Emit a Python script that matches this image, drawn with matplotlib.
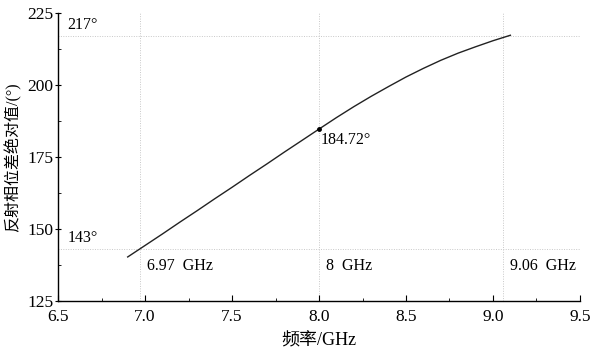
import matplotlib
matplotlib.use("Agg")
import matplotlib.pyplot as plt
from matplotlib.ticker import MultipleLocator, FormatStrFormatter

# frequency (GHz) and absolute reflection phase difference (deg)
freq = [6.90, 7.00, 7.10, 7.20, 7.30, 7.40, 7.50, 7.60, 7.70, 7.80, 7.90,
        8.00, 8.10, 8.20, 8.30, 8.40, 8.50, 8.60, 8.70, 8.80, 8.90, 9.00, 9.10]
phase = [140.3, 144.3, 148.3, 152.4, 156.4, 160.5, 164.5, 168.6, 172.6, 176.7, 180.7,
         184.72, 188.7, 192.5, 196.1, 199.5, 202.8, 205.8, 208.6, 211.1, 213.3, 215.4, 217.3]

mark_f = 8.0
mark_p = 184.72
band_f = [6.97, 8.0, 9.06]
band_labels = ["6.97  GHz", "8  GHz", "9.06  GHz"]
band_p = [143, 217]
band_p_labels = ["143°", "217°"]

plt.rcParams["font.family"] = ["Liberation Serif", "Noto Sans CJK SC"]

fig = plt.figure(figsize=(5.93, 3.49), dpi=100)
ax = fig.add_axes([0.098, 0.1375, 0.88, 0.825])

for f in band_f:
    ax.axvline(f, color="#c8c8c8", lw=0.7, ls=(0, (1, 1.5)), zorder=1)
for p in band_p:
    ax.axhline(p, color="#c8c8c8", lw=0.7, ls=(0, (1, 1.5)), zorder=1)

ax.plot(freq, phase, color="#222222", lw=1.0, zorder=3)
ax.plot([mark_f], [mark_p], "o", color="black", ms=2.5, zorder=4)
ax.text(mark_f + 0.012, mark_p - 1.0, f"{mark_p:.2f}°", fontsize=11.5,
        va="top", ha="left")

for f, lab in zip(band_f, band_labels):
    ax.text(f + 0.04, 137.3, lab, fontsize=11.5, va="center", ha="left")
for p, lab in zip(band_p, band_p_labels):
    ax.text(6.555, p + 1.0, lab, fontsize=11.5, va="bottom", ha="left")

ax.set_xlim(6.5, 9.5)
ax.set_ylim(125, 225)
ax.xaxis.set_major_locator(MultipleLocator(0.5))
ax.xaxis.set_minor_locator(MultipleLocator(0.25))
ax.yaxis.set_major_locator(MultipleLocator(25))
ax.yaxis.set_minor_locator(MultipleLocator(12.5))
ax.xaxis.set_major_formatter(FormatStrFormatter("%.1f"))

for side in ["top", "right"]:
    ax.spines[side].set_visible(False)
for side in ["left", "bottom"]:
    ax.spines[side].set_linewidth(1.0)

ax.tick_params(axis="x", which="major", direction="in", length=4, labelsize=12.5, pad=6)
ax.tick_params(axis="x", which="minor", direction="in", length=2.5)
ax.tick_params(axis="y", which="major", direction="inout", length=5, labelsize=12.5, pad=1)
ax.tick_params(axis="y", which="minor", direction="in", length=2.5)

ax.set_xlabel("频率/GHz", fontsize=13, labelpad=5)
ax.set_ylabel("反射相位差绝对值/(°)", fontsize=11.5, labelpad=4)

fig.savefig("out.png", dpi=100)
